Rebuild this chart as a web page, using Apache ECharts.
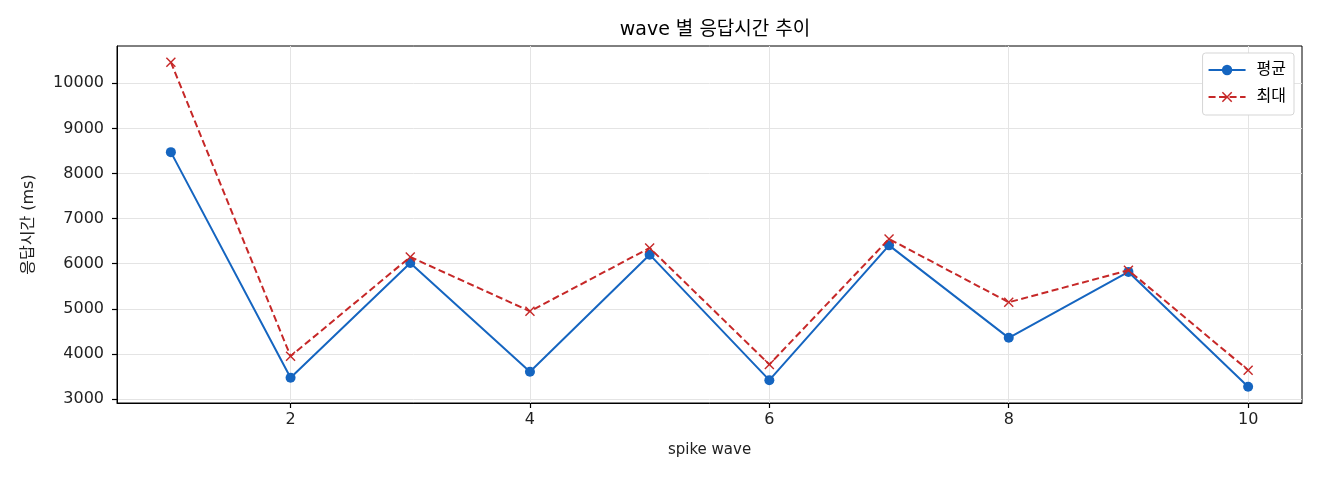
<!DOCTYPE html>
<html>
<head>
<meta charset="utf-8">
<script src="https://cdn.jsdelivr.net/npm/echarts@6/dist/echarts.min.js"></script>
<style>
    html, body { margin: 0; padding: 0; background: #fff; }
    #chart { width: 1320px; height: 480px; }
</style>
</head>
<body>
<div id="chart"></div>
<script>
// wave 번호
const waves = [1, 2, 3, 4, 5, 6, 7, 8, 9, 10]
// 평균 응답시간 (ms)
const avgMs = [8473, 3473, 6018, 3606, 6201, 3420, 6407, 4358, 5819, 3274]
// 최대 응답시간 (ms)
const maxMs = [10465, 3951, 6150, 4947, 6350, 3768, 6549, 5146, 5855, 3642]
// 눈금
const xTicks = [2, 4, 6, 8, 10]
const yTicks = [3000, 4000, 5000, 6000, 7000, 8000, 9000, 10000]

const FONT = "'DejaVu Sans', 'Noto Sans CJK KR', sans-serif"
const crossPath = 'path://M0,1L1,0L5,4L9,0L10,1L6,5L10,9L9,10L5,6L1,10L0,9L4,5Z'

const chart = echarts.init(document.getElementById('chart'))
chart.setOption({
    animation: false,
    textStyle: { fontFamily: FONT },
    title: {
        text: 'wave 별 응답시간 추이',
        left: 710,
        textAlign: 'center',
        top: 16,
        textStyle: { fontFamily: FONT, fontSize: 19, fontWeight: 'normal', color: '#000' }
    },
    legend: {
        orient: 'vertical',
        right: 26,
        top: 53,
        itemWidth: 37,
        itemHeight: 13,
        itemGap: 11,
        padding: [9, 8, 10, 5],
        backgroundColor: '#fff',
        borderColor: '#d5d5d5',
        borderWidth: 1,
        borderRadius: 3,
        textStyle: { fontFamily: FONT, fontSize: 16, color: '#000', padding: [0, 0, 0, 6] },
        data: ['평균', '최대']
    },
    grid: {
        left: 117,
        right: 18,
        top: 46,
        bottom: 77,
        show: true,
        borderColor: '#000',
        borderWidth: 1
    },
    xAxis: {
        type: 'value',
        min: 0.55,
        max: 10.45,
        name: 'spike wave',
        nameLocation: 'middle',
        nameGap: 40,
        nameTextStyle: { fontFamily: FONT, fontSize: 15, color: '#222' },
        axisLine: { show: true, onZero: false, lineStyle: { color: '#000', width: 1 } },
        axisTick: { show: true, inside: false, length: 5, lineStyle: { color: '#000', width: 1.2 }, customValues: xTicks },
        axisLabel: { fontSize: 16, color: '#222', margin: 9, customValues: xTicks },
        splitLine: { show: true, lineStyle: { color: '#e4e4e4', width: 1 } }
    },
    yAxis: {
        type: 'value',
        min: 2914,
        max: 10825,
        name: '응답시간 (ms)',
        nameLocation: 'middle',
        nameGap: 80,
        nameRotate: 90,
        nameTextStyle: { fontFamily: FONT, fontSize: 16, color: '#222' },
        axisLine: { show: true, onZero: false, lineStyle: { color: '#000', width: 1 } },
        axisTick: { show: true, inside: false, length: 5, lineStyle: { color: '#000', width: 1.2 }, customValues: yTicks },
        axisLabel: { fontSize: 16, color: '#222', margin: 13, customValues: yTicks, formatter: v => String(v) },
        splitLine: { show: true, lineStyle: { color: '#e4e4e4', width: 1 } }
    },
    series: [{
        name: '평균',
        type: 'line',
        data: waves.map((w, i) => [w, avgMs[i]]),
        symbol: 'circle',
        symbolSize: 10,
        showAllSymbol: true,
        itemStyle: { color: '#1565c0' },
        lineStyle: { color: '#1565c0', width: 2 },
        z: 2
    }, {
        name: '최대',
        type: 'line',
        data: waves.map((w, i) => [w, maxMs[i]]),
        symbol: crossPath,
        symbolSize: 10,
        showAllSymbol: true,
        itemStyle: { color: '#c62828' },
        lineStyle: { color: '#c62828', width: 2, type: [7, 3.5] },
        z: 3
    }]
})
</script>
</body>
</html>
